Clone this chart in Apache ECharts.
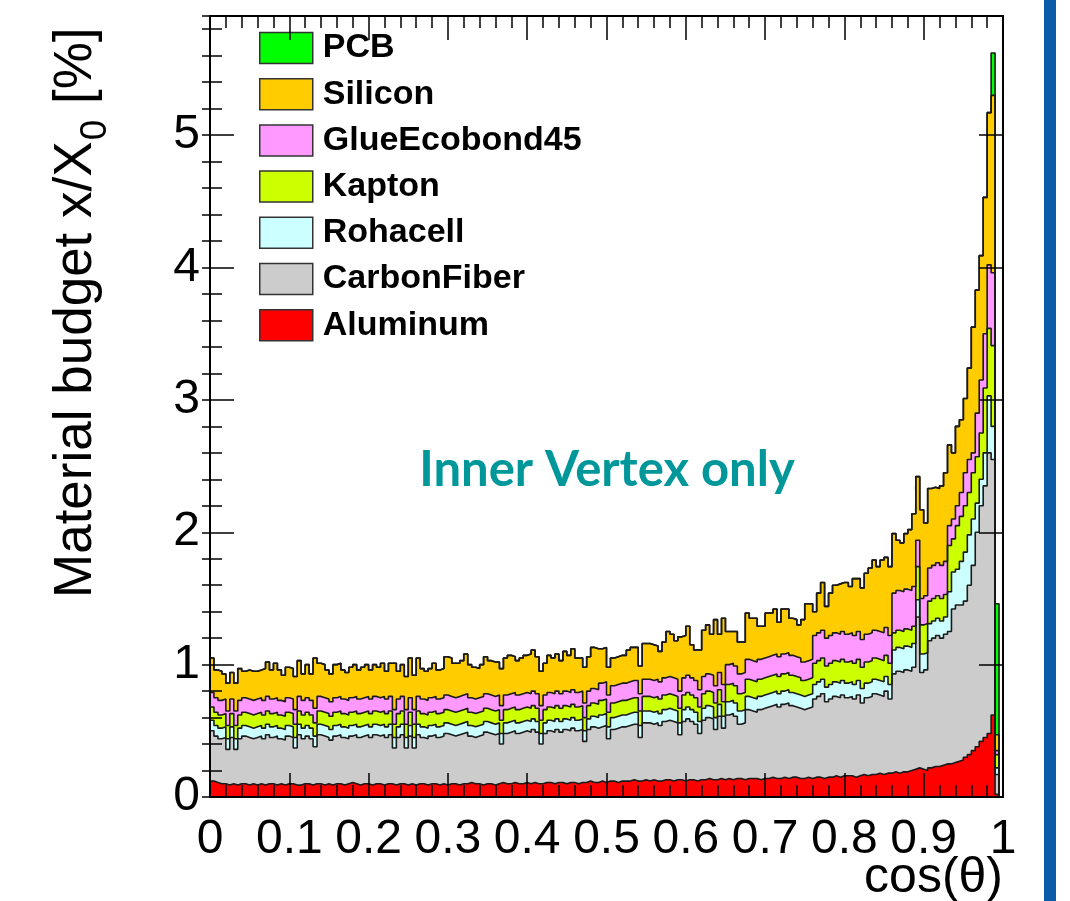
<!DOCTYPE html>
<html lang="en">
<head>
<meta charset="utf-8">
<title>Material budget - Inner Vertex</title>
<script src="https://cdn.jsdelivr.net/npm/echarts@6/dist/echarts.min.js"></script>
<style>
  html, body { margin: 0; padding: 0; background: #fff; }
  #chart { width: 1070px; height: 901px; }
</style>
</head>
<body>
<div id="chart"></div>
<script>
// cos(theta) histogram, 200 bins of 0.005
// every array is the top edge of that material in the stack (x/X0 in %)
const binWidth = 0.005

const aluminum = [
  0.12, 0.11, 0.10, 0.10, 0.09, 0.10, 0.09, 0.10, 0.10, 0.09,
  0.10, 0.09, 0.10, 0.09, 0.10, 0.10, 0.09, 0.10, 0.09, 0.10,
  0.10, 0.09, 0.09, 0.10, 0.10, 0.09, 0.10, 0.10, 0.09, 0.10,
  0.09, 0.10, 0.10, 0.09, 0.10, 0.11, 0.10, 0.09, 0.10, 0.10,
  0.09, 0.10, 0.10, 0.09, 0.10, 0.10, 0.09, 0.10, 0.10, 0.09,
  0.10, 0.09, 0.10, 0.10, 0.09, 0.10, 0.10, 0.09, 0.10, 0.09,
  0.10, 0.10, 0.09, 0.10, 0.10, 0.11, 0.10, 0.10, 0.09, 0.10,
  0.10, 0.09, 0.10, 0.11, 0.10, 0.10, 0.11, 0.10, 0.10, 0.11,
  0.10, 0.11, 0.10, 0.10, 0.11, 0.11, 0.10, 0.11, 0.11, 0.10,
  0.11, 0.11, 0.10, 0.11, 0.11, 0.12, 0.11, 0.11, 0.12, 0.11,
  0.12, 0.12, 0.11, 0.12, 0.12, 0.12, 0.13, 0.12, 0.12, 0.13,
  0.12, 0.13, 0.12, 0.12, 0.13, 0.13, 0.12, 0.13, 0.13, 0.12,
  0.13, 0.13, 0.12, 0.13, 0.13, 0.14, 0.13, 0.13, 0.14, 0.13,
  0.14, 0.13, 0.14, 0.14, 0.13, 0.14, 0.14, 0.14, 0.13, 0.14,
  0.14, 0.15, 0.14, 0.14, 0.15, 0.14, 0.15, 0.15, 0.14, 0.14,
  0.15, 0.14, 0.15, 0.15, 0.14, 0.15, 0.15, 0.16, 0.15, 0.16,
  0.16, 0.16, 0.15, 0.16, 0.17, 0.16, 0.17, 0.17, 0.18, 0.17,
  0.18, 0.18, 0.19, 0.18, 0.19, 0.19, 0.20, 0.21, 0.22, 0.21,
  0.20, 0.22, 0.23, 0.23, 0.24, 0.25, 0.25, 0.26, 0.27, 0.28,
  0.30, 0.32, 0.35, 0.38, 0.42, 0.45, 0.48, 0.62, 0.02, 0
]

const carbonFiber = [
  0.50, 0.46, 0.44, 0.45, 0.36, 0.45, 0.36, 0.44, 0.46, 0.45,
  0.44, 0.45, 0.46, 0.44, 0.47, 0.45, 0.46, 0.44, 0.43, 0.46,
  0.45, 0.37, 0.47, 0.44, 0.46, 0.44, 0.38, 0.47, 0.46, 0.45,
  0.43, 0.46, 0.47, 0.45, 0.44, 0.46, 0.47, 0.45, 0.46, 0.47,
  0.45, 0.47, 0.46, 0.47, 0.45, 0.47, 0.37, 0.45, 0.47, 0.37,
  0.46, 0.37, 0.47, 0.45, 0.44, 0.46, 0.47, 0.45, 0.46, 0.48,
  0.47, 0.46, 0.47, 0.48, 0.49, 0.46, 0.45, 0.46, 0.47, 0.49,
  0.48, 0.47, 0.48, 0.40, 0.48, 0.49, 0.50, 0.48, 0.49, 0.50,
  0.49, 0.51, 0.49, 0.40, 0.48, 0.50, 0.49, 0.51, 0.49, 0.51,
  0.50, 0.52, 0.50, 0.51, 0.42, 0.51, 0.53, 0.52, 0.53, 0.54,
  0.44, 0.51, 0.52, 0.53, 0.53, 0.54, 0.55, 0.55, 0.45, 0.56,
  0.56, 0.55, 0.56, 0.54, 0.57, 0.58, 0.57, 0.56, 0.47, 0.57,
  0.59, 0.57, 0.55, 0.48, 0.58, 0.60, 0.59, 0.51, 0.61, 0.52,
  0.62, 0.63, 0.61, 0.55, 0.56, 0.66, 0.65, 0.64, 0.66, 0.67,
  0.68, 0.69, 0.70, 0.68, 0.70, 0.71, 0.69, 0.68, 0.67, 0.66,
  0.67, 0.68, 0.74, 0.76, 0.78, 0.72, 0.74, 0.76, 0.75, 0.77,
  0.75, 0.76, 0.74, 0.77, 0.71, 0.75, 0.76, 0.78, 0.77, 0.76,
  0.80, 0.74, 0.93, 0.95, 0.94, 0.96, 0.95, 0.98, 1.36, 0.94,
  0.96, 1.18, 1.20, 1.22, 1.20, 1.23, 1.25, 1.42, 1.45, 1.45,
  1.48, 1.60, 1.75, 2.00, 2.20, 2.35, 2.60, 2.55, 0.17, 0
]

const rohacell = [
  0.58, 0.54, 0.52, 0.53, 0.44, 0.53, 0.44, 0.52, 0.54, 0.53,
  0.52, 0.53, 0.54, 0.52, 0.55, 0.53, 0.54, 0.52, 0.51, 0.54,
  0.53, 0.45, 0.55, 0.52, 0.54, 0.52, 0.46, 0.55, 0.54, 0.53,
  0.51, 0.54, 0.55, 0.53, 0.52, 0.54, 0.55, 0.53, 0.54, 0.55,
  0.53, 0.55, 0.54, 0.55, 0.53, 0.55, 0.45, 0.53, 0.55, 0.45,
  0.54, 0.45, 0.55, 0.53, 0.52, 0.54, 0.55, 0.53, 0.54, 0.56,
  0.55, 0.54, 0.55, 0.56, 0.57, 0.54, 0.53, 0.54, 0.55, 0.57,
  0.56, 0.55, 0.56, 0.48, 0.56, 0.57, 0.58, 0.56, 0.57, 0.58,
  0.57, 0.59, 0.57, 0.48, 0.56, 0.58, 0.57, 0.59, 0.57, 0.59,
  0.58, 0.60, 0.58, 0.59, 0.50, 0.59, 0.61, 0.60, 0.62, 0.63,
  0.53, 0.60, 0.61, 0.62, 0.62, 0.63, 0.64, 0.64, 0.54, 0.65,
  0.65, 0.64, 0.65, 0.63, 0.66, 0.67, 0.66, 0.65, 0.56, 0.66,
  0.68, 0.66, 0.64, 0.57, 0.67, 0.69, 0.68, 0.60, 0.70, 0.61,
  0.72, 0.73, 0.71, 0.65, 0.66, 0.76, 0.75, 0.74, 0.76, 0.77,
  0.78, 0.79, 0.80, 0.78, 0.80, 0.81, 0.79, 0.78, 0.77, 0.76,
  0.77, 0.78, 0.85, 0.87, 0.89, 0.83, 0.85, 0.87, 0.86, 0.88,
  0.86, 0.87, 0.85, 0.88, 0.82, 0.86, 0.87, 0.89, 0.88, 0.87,
  0.91, 0.85, 1.11, 1.13, 1.12, 1.14, 1.13, 1.16, 1.49, 1.08,
  1.09, 1.31, 1.33, 1.35, 1.33, 1.36, 1.55, 1.70, 1.72, 1.78,
  1.85, 1.98, 2.10, 2.22, 2.40, 2.60, 3.03, 2.80, 0.22, 0
]

const kapton = [
  0.68, 0.64, 0.62, 0.63, 0.54, 0.63, 0.54, 0.62, 0.64, 0.63,
  0.62, 0.63, 0.64, 0.62, 0.65, 0.63, 0.64, 0.62, 0.61, 0.64,
  0.63, 0.55, 0.65, 0.62, 0.64, 0.62, 0.56, 0.65, 0.64, 0.63,
  0.61, 0.64, 0.65, 0.63, 0.62, 0.64, 0.65, 0.63, 0.64, 0.65,
  0.63, 0.65, 0.64, 0.65, 0.63, 0.65, 0.55, 0.63, 0.65, 0.55,
  0.64, 0.55, 0.65, 0.63, 0.62, 0.64, 0.65, 0.63, 0.64, 0.66,
  0.65, 0.64, 0.65, 0.66, 0.67, 0.64, 0.63, 0.64, 0.65, 0.67,
  0.66, 0.65, 0.66, 0.58, 0.66, 0.67, 0.68, 0.66, 0.67, 0.68,
  0.67, 0.69, 0.67, 0.58, 0.66, 0.68, 0.67, 0.69, 0.67, 0.69,
  0.68, 0.70, 0.68, 0.69, 0.60, 0.69, 0.71, 0.70, 0.73, 0.74,
  0.64, 0.71, 0.72, 0.73, 0.73, 0.74, 0.75, 0.75, 0.65, 0.76,
  0.76, 0.75, 0.76, 0.74, 0.77, 0.78, 0.77, 0.76, 0.67, 0.77,
  0.79, 0.77, 0.75, 0.68, 0.78, 0.80, 0.79, 0.71, 0.81, 0.72,
  0.85, 0.86, 0.84, 0.78, 0.79, 0.89, 0.88, 0.87, 0.89, 0.90,
  0.91, 0.92, 0.93, 0.91, 0.93, 0.94, 0.92, 0.91, 0.90, 0.88,
  0.89, 0.90, 1.01, 1.03, 1.05, 0.99, 1.01, 1.03, 1.02, 1.04,
  1.02, 1.03, 1.01, 1.04, 0.98, 1.02, 1.03, 1.05, 1.04, 1.03,
  1.07, 1.01, 1.24, 1.26, 1.25, 1.27, 1.26, 1.29, 1.74, 1.30,
  1.31, 1.48, 1.50, 1.52, 1.50, 1.53, 1.90, 1.95, 2.05, 2.12,
  2.20, 2.30, 2.45, 2.57, 2.75, 3.09, 3.54, 3.41, 0.32, 0
]

const glueEcobond45 = [
  0.79, 0.75, 0.73, 0.74, 0.65, 0.74, 0.65, 0.73, 0.75, 0.74,
  0.73, 0.74, 0.75, 0.73, 0.76, 0.74, 0.75, 0.73, 0.72, 0.75,
  0.74, 0.66, 0.76, 0.73, 0.75, 0.73, 0.67, 0.76, 0.75, 0.74,
  0.72, 0.75, 0.76, 0.74, 0.73, 0.75, 0.76, 0.74, 0.75, 0.76,
  0.74, 0.76, 0.75, 0.76, 0.74, 0.76, 0.66, 0.74, 0.76, 0.66,
  0.75, 0.66, 0.76, 0.74, 0.73, 0.75, 0.76, 0.74, 0.75, 0.77,
  0.76, 0.75, 0.76, 0.77, 0.78, 0.75, 0.74, 0.75, 0.76, 0.78,
  0.77, 0.76, 0.77, 0.69, 0.77, 0.78, 0.79, 0.77, 0.78, 0.79,
  0.78, 0.80, 0.78, 0.69, 0.77, 0.79, 0.78, 0.80, 0.78, 0.80,
  0.79, 0.81, 0.79, 0.80, 0.71, 0.80, 0.82, 0.81, 0.86, 0.87,
  0.77, 0.84, 0.85, 0.86, 0.86, 0.87, 0.88, 0.88, 0.78, 0.89,
  0.89, 0.88, 0.89, 0.87, 0.90, 0.91, 0.90, 0.89, 0.80, 0.90,
  0.92, 0.90, 0.88, 0.81, 0.91, 0.93, 0.92, 0.84, 0.94, 0.85,
  1.00, 1.01, 0.99, 0.93, 0.94, 1.04, 1.03, 1.02, 1.04, 1.05,
  1.06, 1.07, 1.08, 1.06, 1.08, 1.09, 1.07, 1.06, 1.05, 1.02,
  1.03, 1.04, 1.22, 1.24, 1.26, 1.20, 1.22, 1.24, 1.23, 1.25,
  1.23, 1.24, 1.22, 1.25, 1.19, 1.23, 1.24, 1.26, 1.25, 1.24,
  1.28, 1.22, 1.54, 1.56, 1.55, 1.57, 1.56, 1.59, 1.94, 1.50,
  1.52, 1.73, 1.75, 1.77, 1.75, 1.78, 2.05, 2.10, 2.20, 2.30,
  2.45, 2.55, 2.60, 2.90, 3.15, 3.50, 4.02, 3.96, 0.35, 0
]

const silicon = [
  1.05, 0.96, 0.95, 0.93, 0.86, 0.94, 0.86, 0.97, 0.95, 0.96,
  0.95, 0.95, 0.96, 0.97, 1.02, 0.96, 1.01, 0.96, 0.92, 0.98,
  0.97, 0.91, 1.03, 0.93, 1.00, 0.93, 1.05, 1.01, 1.00, 0.96,
  0.93, 1.00, 1.01, 0.96, 0.94, 0.98, 1.00, 0.96, 0.98, 1.00,
  0.96, 1.00, 0.98, 1.01, 0.95, 1.01, 1.01, 0.95, 1.00, 0.91,
  1.05, 0.92, 1.05, 0.97, 0.95, 0.97, 1.01, 0.96, 0.97, 1.06,
  1.05, 1.01, 1.01, 1.03, 1.08, 1.00, 0.98, 0.97, 1.00, 1.06,
  1.03, 1.02, 1.02, 0.97, 1.05, 1.07, 1.06, 1.03, 1.05, 1.07,
  1.08, 1.11, 1.06, 0.95, 1.01, 1.07, 1.05, 1.08, 1.03, 1.10,
  1.07, 1.12, 1.05, 1.05, 0.98, 1.06, 1.13, 1.12, 1.12, 1.13,
  0.98, 1.05, 1.06, 1.07, 1.07, 1.11, 1.13, 1.13, 0.99, 1.16,
  1.16, 1.15, 1.14, 1.10, 1.17, 1.25, 1.23, 1.18, 1.21, 1.22,
  1.29, 1.15, 1.11, 1.11, 1.26, 1.30, 1.23, 1.34, 1.23, 1.35,
  1.25, 1.25, 1.25, 1.17, 1.17, 1.39, 1.35, 1.35, 1.29, 1.29,
  1.39, 1.39, 1.42, 1.32, 1.42, 1.42, 1.35, 1.34, 1.30, 1.34,
  1.46, 1.46, 1.40, 1.54, 1.62, 1.44, 1.54, 1.60, 1.61, 1.62,
  1.62, 1.59, 1.65, 1.65, 1.58, 1.69, 1.73, 1.79, 1.74, 1.79,
  1.81, 1.74, 1.99, 1.94, 1.92, 1.99, 2.02, 2.14, 2.42, 2.17,
  2.07, 2.33, 2.34, 2.33, 2.35, 2.45, 2.66, 2.60, 2.80, 2.85,
  3.01, 3.24, 3.55, 3.83, 4.09, 4.53, 5.17, 5.30, 0.47, 0
]

// PCB only shows in the last bins, kept as its own amount on top of silicon
const pcb = [
  0, 0, 0, 0, 0, 0, 0, 0, 0, 0,
  0, 0, 0, 0, 0, 0, 0, 0, 0, 0,
  0, 0, 0, 0, 0, 0, 0, 0, 0, 0,
  0, 0, 0, 0, 0, 0, 0, 0, 0, 0,
  0, 0, 0, 0, 0, 0, 0, 0, 0, 0,
  0, 0, 0, 0, 0, 0, 0, 0, 0, 0,
  0, 0, 0, 0, 0, 0, 0, 0, 0, 0,
  0, 0, 0, 0, 0, 0, 0, 0, 0, 0,
  0, 0, 0, 0, 0, 0, 0, 0, 0, 0,
  0, 0, 0, 0, 0, 0, 0, 0, 0, 0,
  0, 0, 0, 0, 0, 0, 0, 0, 0, 0,
  0, 0, 0, 0, 0, 0, 0, 0, 0, 0,
  0, 0, 0, 0, 0, 0, 0, 0, 0, 0,
  0, 0, 0, 0, 0, 0, 0, 0, 0, 0,
  0, 0, 0, 0, 0, 0, 0, 0, 0, 0,
  0, 0, 0, 0, 0, 0, 0, 0, 0, 0,
  0, 0, 0, 0, 0, 0, 0, 0, 0, 0,
  0, 0, 0, 0, 0, 0, 0, 0, 0, 0,
  0, 0, 0, 0, 0, 0, 0, 0, 0, 0,
  0, 0, 0, 0, 0, 0, 0, 0.32, 0.99, 0
]

// drawn like a ROOT THStack: highest level first, each one filled down to zero
const layers = [
  { name: 'PCB', color: '#00ff00', top: silicon.map((v, i) => +(v + pcb[i]).toFixed(2)) },
  { name: 'Silicon', color: '#ffcc00', top: silicon },
  { name: 'GlueEcobond45', color: '#ff99ff', top: glueEcobond45 },
  { name: 'Kapton', color: '#ccff00', top: kapton },
  { name: 'Rohacell', color: '#ccffff', top: rohacell },
  { name: 'CarbonFiber', color: '#cccccc', top: carbonFiber },
  { name: 'Aluminum', color: '#ff0000', top: aluminum }
]

function stepData(top) {
  const pts = top.map((v, i) => [Math.round(i * binWidth * 1000) / 1000, v])
  pts.push([1, top[top.length - 1]])
  return pts
}

const font = '"Liberation Sans", Arial, Helvetica, sans-serif'
const frame = { show: true, onZero: false, lineStyle: { color: '#000', width: 2 } }
const tickStyle = { color: '#000', width: 1.5 }
const yMax = 5.9

function yAxisDef(position, interval, tickLen, withLine, withLabel) {
  return {
    type: 'value', position, min: 0, max: yMax, interval, z: 10,
    axisLine: withLine ? frame : { show: false },
    splitLine: { show: false },
    axisTick: { show: true, inside: true, length: tickLen, lineStyle: tickStyle },
    axisLabel: withLabel ? {
      fontSize: 48, fontFamily: font, color: '#000', margin: 10, showMaxLabel: false,
      formatter: v => (Math.abs(v - Math.round(v)) < 1e-6 ? String(Math.round(v)) : '')
    } : { show: false }
  }
}

function xAxisDef(position, withLabel) {
  return {
    type: 'value', position, min: 0, max: 1, interval: 0.1, z: 10,
    axisLine: frame,
    splitLine: { show: false },
    axisTick: { show: true, inside: true, length: 24, lineStyle: tickStyle },
    minorTick: { show: true, splitNumber: 5, length: 12, lineStyle: tickStyle },
    axisLabel: withLabel ? { fontSize: 48, fontFamily: font, color: '#000', margin: 19 } : { show: false }
  }
}

// y title with the subscript 0, pieces placed one after another along the rotated baseline
const ctx = document.createElement('canvas').getContext('2d')
function textWidth(str, f) {
  ctx.font = f
  return ctx.measureText(str).width
}
const titleFont = '53px "Liberation Sans", Arial, sans-serif'
const subFont = '37px "Liberation Sans", Arial, sans-serif'
const yTitle = ['Material budget x/X', '0', ' [%]']
const titleBottom = 598
const w1 = textWidth(yTitle[0], titleFont)
const w0 = textWidth(yTitle[1], subFont)

function rotatedText(text, x, y, f) {
  return {
    type: 'text', x, y, rotation: Math.PI / 2, silent: true,
    style: { text, font: f, fill: '#000', textAlign: 'left', textVerticalAlign: 'middle', align: 'left', verticalAlign: 'middle' }
  }
}

const chart = echarts.init(document.getElementById('chart'))
chart.setOption({
  animation: false,
  backgroundColor: '#fff',
  grid: { left: 210, right: 67, top: 16, bottom: 104 },
  xAxis: [xAxisDef('bottom', true), xAxisDef('top', false)],
  yAxis: [
    yAxisDef('left', 1, 24, true, true),
    yAxisDef('left', 0.2, 12, false, false),
    yAxisDef('right', 1, 24, true, false),
    yAxisDef('right', 0.2, 8, false, false)
  ],
  legend: {
    orient: 'vertical', left: 259, top: 31, padding: 0,
    itemWidth: 53, itemHeight: 31, itemGap: 12.2,
    icon: 'rect', selectedMode: false,
    itemStyle: { borderColor: '#333', borderWidth: 1.5 },
    textStyle: { fontSize: 34, fontWeight: 'bold', fontFamily: font, color: '#000', lineHeight: 31, padding: [0, 0, 0, 5] },
    data: layers.map(l => ({ name: l.name, itemStyle: { color: l.color } }))
  },
  series: layers.map(l => ({
    name: l.name,
    type: 'line',
    step: 'end',
    data: stepData(l.top),
    symbol: 'none',
    silent: true,
    lineStyle: { color: '#1a1a1a', width: 1.6 },
    areaStyle: { color: l.color, opacity: 1 },
    itemStyle: { color: l.color }
  })),
  graphic: [
    { type: 'rect', silent: true, shape: { x: 1044, y: 0, width: 12, height: 901 }, style: { fill: '#0a5ca9' } },
    rotatedText(yTitle[0], 76, titleBottom, titleFont),
    rotatedText(yTitle[1], 96, titleBottom - w1 - 1, subFont),
    rotatedText(yTitle[2], 76, titleBottom - w1 - w0 - 2, titleFont),
    {
      type: 'text', x: 1003, y: 878, silent: true,
      style: { text: 'cos(θ)', font: '50px "Liberation Sans", Arial, sans-serif', fill: '#000', textAlign: 'right', textVerticalAlign: 'middle', align: 'right', verticalAlign: 'middle' }
    },
    {
      type: 'text', x: 607, y: 470, silent: true,
      style: { text: 'Inner Vertex only', font: 'bold 49px Lato, "Open Sans", sans-serif', fill: '#00979a', textAlign: 'center', textVerticalAlign: 'middle', align: 'center', verticalAlign: 'middle' }
    }
  ]
})
</script>
</body>
</html>
